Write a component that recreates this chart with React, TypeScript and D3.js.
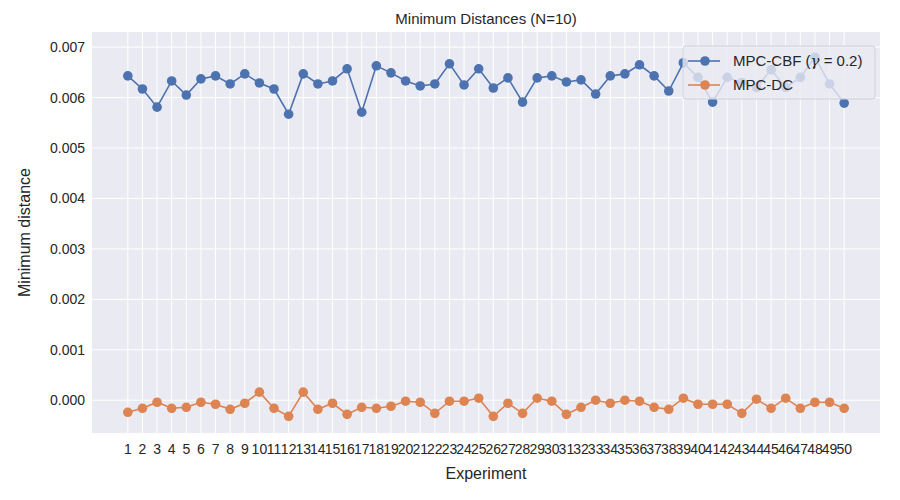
import { useRef, useEffect } from 'react';
import * as d3 from 'd3';

const EXPERIMENTS = d3.range(1, 51);
const CBF = [0.00643, 0.00617, 0.00581, 0.00633, 0.00605, 0.00637, 0.00643, 0.00627, 0.00647, 0.00629,
  0.00617, 0.00567, 0.00647, 0.00627, 0.00633, 0.00657, 0.00571, 0.00663, 0.00649, 0.00633,
  0.00623, 0.00627, 0.00667, 0.00625, 0.00657, 0.00619, 0.00639, 0.00591, 0.00639, 0.00643,
  0.00631, 0.00635, 0.00607, 0.00643, 0.00647, 0.00665, 0.00643, 0.00613, 0.00669, 0.0064,
  0.00591, 0.0064, 0.0063, 0.0062, 0.00655, 0.0062, 0.0064, 0.0068, 0.00627, 0.00589];
const DC = [-0.00024, -0.00016, -0.00004, -0.00016, -0.00014, -0.00004, -0.00008, -0.00018, -0.00006, 0.00016,
  -0.00016, -0.00032, 0.00016, -0.00018, -0.00006, -0.00028, -0.00014, -0.00016, -0.00012, -0.00002,
  -0.00004, -0.00026, -0.00002, -0.00002, 0.00004, -0.00032, -0.00006, -0.00026, 0.00004, -0.00002,
  -0.00028, -0.00014, 0, -0.00006, 0, -0.00002, -0.00014, -0.00018, 0.00004, -0.00008,
  -0.00008, -0.00008, -0.00026, 0.00002, -0.00016, 0.00004, -0.00016, -0.00004, -0.00004, -0.00016];
const Y_TICKS = [0, 0.001, 0.002, 0.003, 0.004, 0.005, 0.006, 0.007];

const BLUE = '#4c72b0', ORANGE = '#dd8452';

export default function App() {
  const ref = useRef<SVGSVGElement>(null);
  useEffect(() => {
    const svg = d3.select(ref.current!);
    svg.selectAll('*').remove();
    const L = 92, R = 880, T = 32, B = 433;
    const font = '"Liberation Sans", Arial, sans-serif';
    const x = d3.scaleLinear().domain([1 - 2.45, 50 + 2.45]).range([L, R]);
    const y = d3.scaleLinear().domain([-0.00065, 0.0073]).range([B, T]);

    svg.append('rect').attr('width', 900).attr('height', 500).attr('fill', '#fff');
    svg.append('rect').attr('x', L).attr('y', T).attr('width', R - L).attr('height', B - T).attr('fill', '#eaeaf2');

    EXPERIMENTS.forEach((e) => {
      svg.append('line').attr('x1', x(e)).attr('x2', x(e)).attr('y1', T).attr('y2', B).attr('stroke', '#fff').attr('stroke-width', 1);
      svg.append('text').attr('x', x(e)).attr('y', B + 21).attr('text-anchor', 'middle')
        .attr('font-size', 14).attr('font-family', font).attr('fill', '#262626').text(e);
    });
    Y_TICKS.forEach((v) => {
      svg.append('line').attr('x1', L).attr('x2', R).attr('y1', y(v)).attr('y2', y(v)).attr('stroke', '#fff').attr('stroke-width', 1);
      svg.append('text').attr('x', L - 7).attr('y', y(v) + 5).attr('text-anchor', 'end')
        .attr('font-size', 14).attr('font-family', font).attr('fill', '#262626').text(v.toFixed(3));
    });

    const series = [{ data: CBF, color: BLUE }, { data: DC, color: ORANGE }];
    series.forEach((s) => {
      const line = d3.line<number>().x((_, i) => x(EXPERIMENTS[i])).y((d) => y(d));
      svg.append('path').attr('d', line(s.data)!).attr('fill', 'none').attr('stroke', s.color).attr('stroke-width', 1.6);
      s.data.forEach((d, i) => {
        svg.append('circle').attr('cx', x(EXPERIMENTS[i])).attr('cy', y(d)).attr('r', 4.8).attr('fill', s.color);
      });
    });

    // Legend
    const lg = svg.append('g');
    lg.append('rect').attr('x', 683).attr('y', 46).attr('width', 192).attr('height', 53).attr('rx', 3)
      .attr('fill', 'rgba(234,234,242,0.8)').attr('stroke', '#d0d0d8');
    [{ c: BLUE, y: 61 }, { c: ORANGE, y: 85 }].forEach((it) => {
      lg.append('line').attr('x1', 688).attr('x2', 720).attr('y1', it.y).attr('y2', it.y).attr('stroke', it.c).attr('stroke-width', 1.6);
      lg.append('circle').attr('cx', 705).attr('cy', it.y).attr('r', 4.8).attr('fill', it.c);
    });
    const t1 = lg.append('text').attr('x', 733).attr('y', 66).attr('font-size', 15).attr('font-family', font).attr('fill', '#262626');
    t1.append('tspan').text('MPC-CBF (');
    t1.append('tspan').attr('font-style', 'italic').attr('font-family', '"DejaVu Serif", serif').text('γ');
    t1.append('tspan').text(' = 0.2)');
    lg.append('text').attr('x', 733).attr('y', 90).attr('font-size', 15).attr('font-family', font).attr('fill', '#262626').text('MPC-DC');

    svg.append('text').attr('x', (L + R) / 2).attr('y', 24).attr('text-anchor', 'middle')
      .attr('font-size', 15).attr('font-family', font).attr('fill', '#262626').text('Minimum Distances (N=10)');
    svg.append('text').attr('x', (L + R) / 2).attr('y', 479).attr('text-anchor', 'middle')
      .attr('font-size', 16).attr('font-family', font).attr('fill', '#262626').text('Experiment');
    svg.append('text').attr('transform', `translate(30,${(T + B) / 2}) rotate(-90)`).attr('text-anchor', 'middle')
      .attr('font-size', 16).attr('font-family', font).attr('fill', '#262626').text('Minimum distance');
  }, []);
  return <svg ref={ref} width={900} height={500} style={{ display: 'block', margin: -8 }} />;
}
